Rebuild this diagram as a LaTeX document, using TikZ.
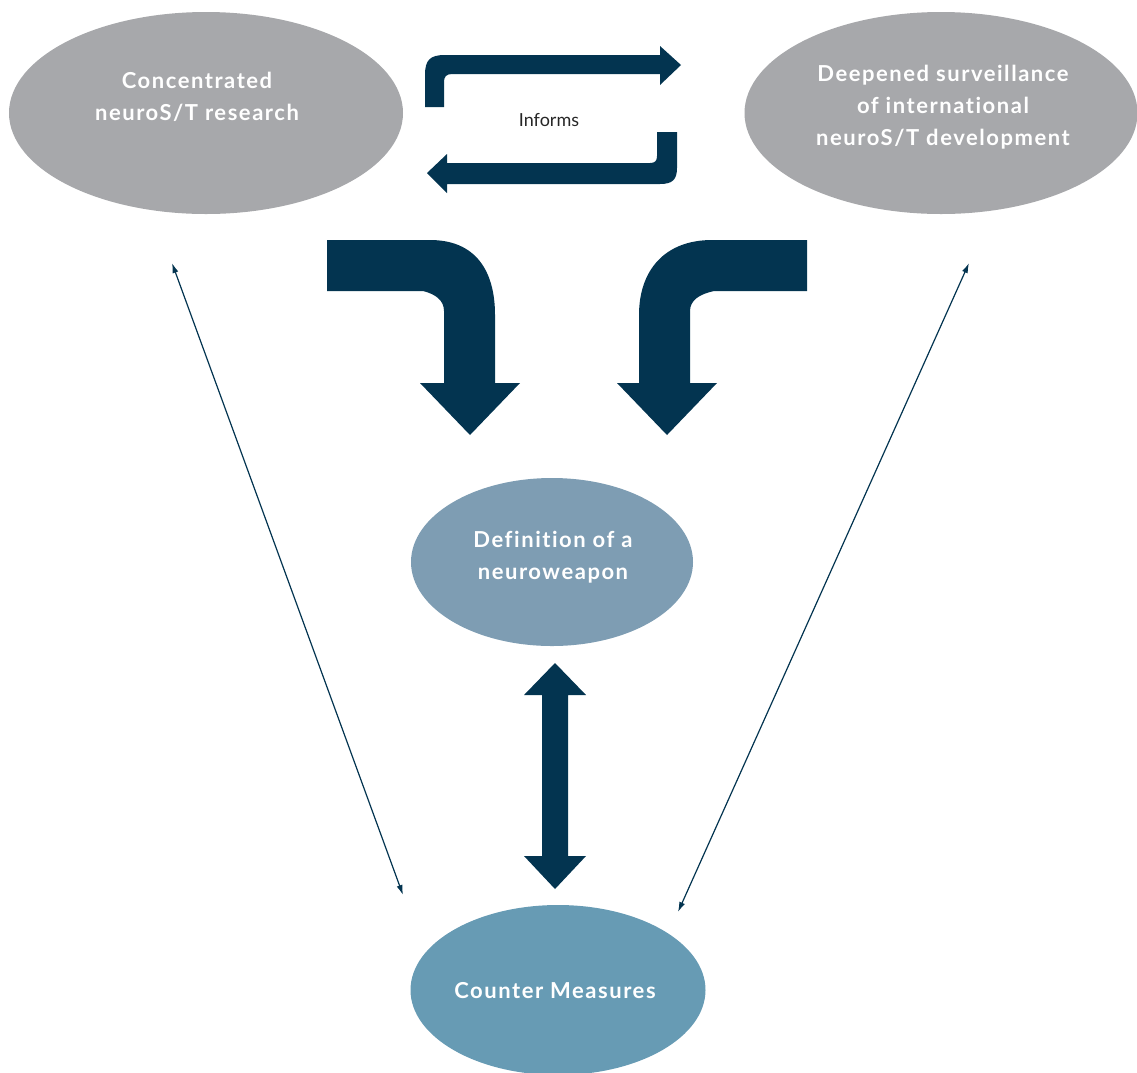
\documentclass[tikz,border=0pt]{standalone}
\usepackage{fontspec}
\setmainfont{Lato}
\newfontfamily\lblfont[LetterSpace=7,Ligatures={NoCommon}]{Lato}
\usetikzlibrary{shapes.geometric,arrows.meta}
\definecolor{navy}{HTML}{033450}
\definecolor{greyell}{HTML}{A7A8AB}
\definecolor{midell}{HTML}{7E9DB3}
\definecolor{botell}{HTML}{679BB4}
\tikzset{
  ell/.style={ellipse,inner sep=0pt},
  lbl/.style={text=white,align=center,font=\lblfont\bfseries\fontsize{22}{32}\selectfont},
  bigarrow/.style={fill=navy},
  thinarrow/.style={draw=navy,line width=1.2pt,{Latex[length=10pt,width=6pt]}-{Latex[length=10pt,width=6pt]}}
}
\begin{document}
\begin{tikzpicture}[x=1pt,y=-1pt]
\useasboundingbox (0,0) rectangle (1137,1072);
\clip (0,0) rectangle (1137,1072);
% ellipses
\node[ell,fill=greyell,minimum width=394,minimum height=202] (TL) at (206,113) {};
\node[lbl] (TLt) at (197,97) {Concentrated\\neuroS/T research};
\node[ell,fill=greyell,minimum width=393,minimum height=202] (TR) at (941,113) {};
\node[lbl] (TRt) at (943,107) {Deepened surveillance\\of international\\neuroS/T development};
\node[ell,fill=midell,minimum width=282,minimum height=168] (MID) at (552,562) {};
\node[lbl] (MIDt) at (553,557) {Definition of a\\neuroweapon};
\node[ell,fill=botell,minimum width=295,minimum height=170] (BOT) at (558,990) {};
\node[lbl] (BOTt) at (555,991) {Counter Measures};
% informs arrows
\fill[navy] (425,107) -- (425,75) .. controls (425,60) and (430,55) .. (445,55) -- (660,55) -- (660,46) -- (681,65) -- (660,85) -- (660,74) -- (452,74) .. controls (446,74) and (444,77) .. (444,82) -- (444,107) -- cycle;
\fill[navy] (677,132) -- (677,168) .. controls (677,180) and (672,184) .. (660,184) -- (447,184) -- (447,193) -- (427,173) -- (447,154) -- (447,163) -- (650,163) .. controls (655,163) and (657,161) .. (657,156) -- (657,132) -- cycle;
\node[font=\fontsize{18}{20}\selectfont,text=black!85] (inf) at (549,120) {Informs};
% big bent arrows
\fill[bigarrow] (327,240) -- (430,240) .. controls (475,240) and (495,270) .. (495,315) -- (495,383) -- (520,383) -- (470,435) -- (420,383) -- (444,383) -- (444,311) .. controls (444,300) and (435,294) .. (423,291) -- (327,291) -- cycle;
\fill[bigarrow] (807,240) -- (712,240) .. controls (665,240) and (639,270) .. (639,315) -- (639,383) -- (617,383) -- (667,435) -- (717,383) -- (690,383) -- (690,311) .. controls (690,300) and (700,294) .. (714,291) -- (807,291) -- cycle;
% double arrow
\fill[bigarrow] (555,663) -- (586,695) -- (568,695) -- (568,856) -- (586,856) -- (555,889) -- (524,856) -- (542,856) -- (542,695) -- (524,695) -- cycle;
% thin arrows
\coordinate (a1) at (172,263);
\coordinate (a2) at (403,895);
\coordinate (b1) at (969,263);
\coordinate (b2) at (678,912);
\draw[thinarrow] (a1) -- (a2);
\draw[thinarrow] (b1) -- (b2);
\end{tikzpicture}
\end{document}
